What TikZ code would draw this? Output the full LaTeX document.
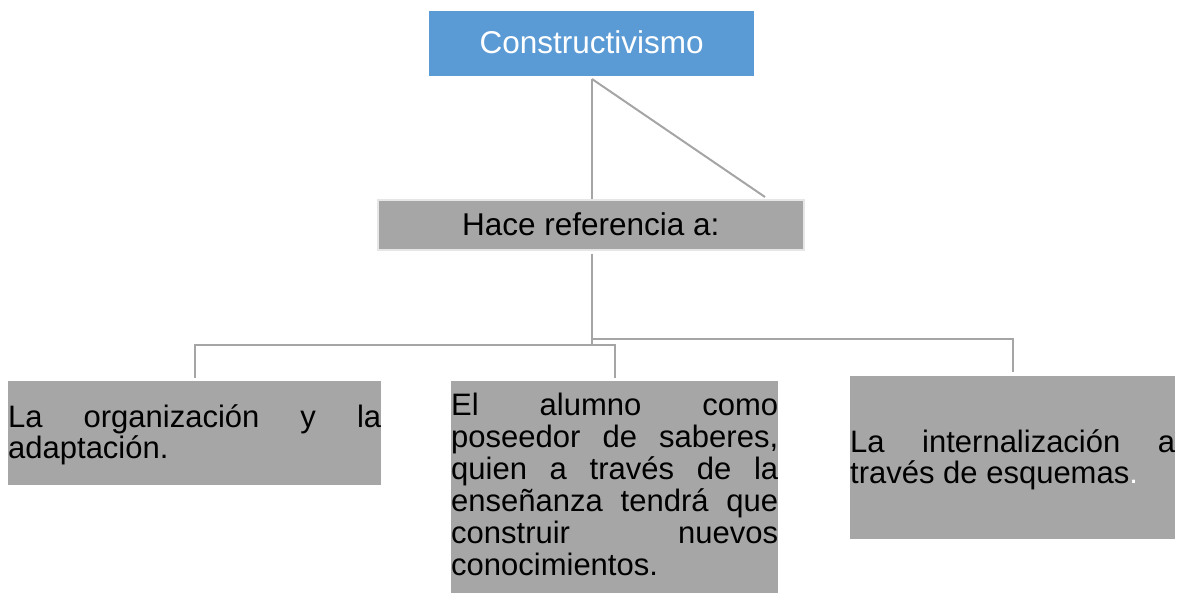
\documentclass[tikz,border=0pt]{standalone}
\usepackage{fontspec}
\setmainfont{Liberation Sans}
\definecolor{blueC}{HTML}{5B9BD5}
\definecolor{boxgray}{HTML}{A6A6A6}
\definecolor{linegray}{HTML}{A5A5A5}
\definecolor{borderC}{HTML}{E6E6E6}
\tolerance=10000
\hbadness=10000
\hyphenpenalty=10000
\exhyphenpenalty=10000
\begin{document}
\begin{tikzpicture}[x=1pt,y=-1pt,
  conn/.style={draw=linegray, line width=2pt},
  gbox/.style={fill=boxgray, inner sep=0pt, anchor=north west, align=justify,
    font=\fontsize{31}{31}\selectfont},
  topbox/.style={fill=blueC, text=white, inner sep=0pt, anchor=north west,
    font=\fontsize{31.5}{31.5}\selectfont},
  midbox/.style={fill=boxgray, draw=borderC, line width=1.5pt, inner sep=0pt,
    anchor=north west, font=\fontsize{31.5}{31.5}\selectfont}
]
\useasboundingbox (0,0) rectangle (1182,592);

\node[topbox, minimum width=325pt, text height=42pt, text depth=23pt] (top) at (429,11) {Constructivismo};
\node[midbox, minimum width=426pt, text height=36pt, text depth=14pt] (hace) at (377,199) {Hace referencia a:};

\node[gbox, text width=373pt, text height=46pt, text depth=58pt] (b1) at (8,381)
  {La organización y la\linebreak adaptación.};
\node[gbox, text width=327pt, text height=34pt, text depth=200pt,
  font=\fontsize{31}{32}\selectfont] (b2) at (451,381)
  {El alumno como\linebreak poseedor de saberes,\linebreak quien a través de la\linebreak enseñanza tendrá que\linebreak construir nuevos\linebreak conocimientos.};
\node[gbox, text width=325pt, text height=76pt, text depth=87pt] (b3) at (850,376)
  {La internalización a\linebreak través de esquemas{\color{white}.}};

\coordinate (s) at (592,79);
\coordinate (d1) at (765,197);
\coordinate (j1) at (592,345);
\coordinate (j2) at (592,339);

\draw[conn] (s) -- (s |- hace.north);
\draw[conn] (s) -- (d1);
\draw[conn] ([yshift=-3pt]hace.south -| j1) -- (j1);
\draw[conn] ([yshift=3pt]b1.north) -- (b1.north |- j1) -- (b2.north |- j1) -- ([yshift=3pt]b2.north);
\draw[conn] (j2) -| ([yshift=4pt]b3.north);
\end{tikzpicture}
\end{document}
